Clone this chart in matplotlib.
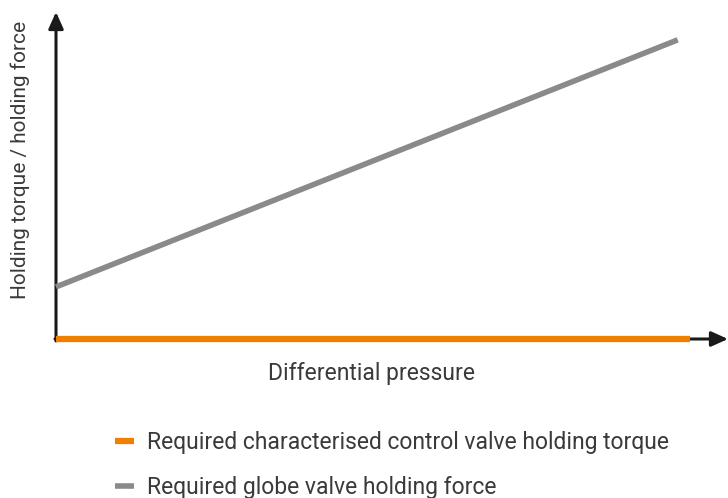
"""Holding torque vs differential pressure sketch."""

import matplotlib
matplotlib.use("Agg")
import matplotlib.pyplot as plt

# data (arbitrary units, schematic chart)
pressure_orange = [0, 96]
torque_orange = [0.3, 0.3]
pressure_gray = [0, 94.2]
force_gray = [16.6, 93.8]

labels = [
    "Required characterised control valve holding torque",
    "Required globe valve holding force",
]
colors = ["#f07f00", "#8a8a8a"]
text_color = "#3a3a3a"

plt.rcParams["font.family"] = ["Roboto", "DejaVu Sans"]
plt.rcParams["font.weight"] = "normal"

W, H = 728, 498
fig = plt.figure(figsize=(W / 100, H / 100), dpi=100)
ax = fig.add_axes([56 / W, 1 - 340 / H, 660 / W, 320 / H])
ax.set_xlim(0, 100)
ax.set_ylim(0, 100)
for s in ax.spines.values():
    s.set_visible(False)
ax.set_xticks([])
ax.set_yticks([])

arrow = dict(arrowstyle="-|>,head_length=1.0,head_width=0.45", color="#1a1a1a", lw=2.2,
             shrinkA=0, shrinkB=0)
ax.annotate("", xy=(728 / W, 1 - 339 / H), xytext=(55 / W, 1 - 339 / H),
            xycoords="figure fraction", textcoords="figure fraction", arrowprops=arrow,
            zorder=2)
ax.annotate("", xy=(56 / W, 1 - 12 / H), xytext=(56 / W, 1 - 341 / H),
            xycoords="figure fraction", textcoords="figure fraction", arrowprops=arrow,
            zorder=2)

(l1,) = ax.plot(pressure_orange, torque_orange, color=colors[0], lw=4.5, solid_capstyle="butt",
                label=labels[0], zorder=5, clip_on=False)
(l2,) = ax.plot(pressure_gray, force_gray, color=colors[1], lw=4, solid_capstyle="butt",
                label=labels[1], zorder=5, clip_on=False)

fig.text(372 / W, 1 - 373 / H, "Differential pressure", ha="center", va="center",
         fontsize=16.5, color=text_color)
fig.text(20 / W, 1 - 160 / H, "Holding torque / holding force", ha="center", va="center",
         rotation=90, fontsize=15, color=text_color)

leg = fig.legend(handles=[l1, l2], loc="upper left", bbox_to_anchor=(115 / W, 1 - 431 / H),
                 frameon=False, fontsize=16.5, handlelength=0.85, handletextpad=0.55,
                 labelspacing=0.95, borderpad=0, borderaxespad=0, labelcolor=text_color)

fig.savefig("out.png", dpi=100)
